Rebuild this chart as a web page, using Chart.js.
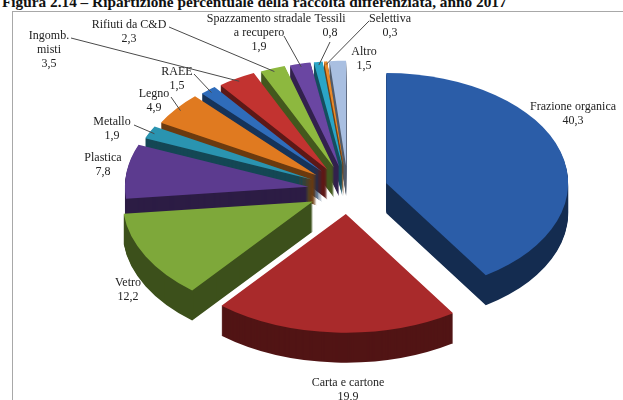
<!DOCTYPE html>
<html>
<head>
<meta charset="utf-8">
<script src="https://cdn.jsdelivr.net/npm/chart.js@4.4.0/dist/chart.umd.min.js"></script>
<style>
body { margin: 0; background: #fff; }
#wrap { position: relative; width: 623px; height: 400px; overflow: hidden; }
#title { position: absolute; left: 2px; top: -6px; font: bold 15.3px 'Liberation Serif', serif; line-height: 16px; white-space: nowrap; color: #111; }
#frame { position: absolute; left: 12px; top: 11px; width: 700px; height: 500px; border-left: 1px solid #a8a8a8; border-top: 1px solid #a8a8a8; }
canvas { position: absolute; left: 0; top: 0; }
</style>
</head>
<body>
<div id="wrap">
  <div id="frame"></div>
  <div id="title">Figura 2.14 – Ripartizione percentuale della raccolta differenziata, anno 2017</div>
  <canvas id="myChart" width="623" height="400"></canvas>
</div>
<script>
// data
var categories = ['Frazione organica', 'Carta e cartone', 'Vetro', 'Plastica', 'Metallo', 'Legno', 'RAEE',
    'Ingomb.\nmisti', 'Rifiuti da C&D', 'Spazzamento stradale\na recupero', 'Tessili', 'Selettiva', 'Altro'];
var values = [40.3, 19.9, 12.2, 7.8, 1.9, 4.9, 1.5, 3.5, 2.3, 1.9, 0.8, 0.3, 1.5];

var colors = ['#2b5da8', '#a92a2b', '#7ea83a', '#5c3b8f', '#2a94b0', '#e07a20', '#2f6cba',
    '#c23330', '#8db83f', '#6a46a2', '#2ba5c6', '#e98a2b', '#a9bfe1'];

// label placement: center x, y of first line, and where the leader line starts (or null)
var labelPos = [
    [573, 107, null], [348, 383, null], [128, 283, null], [103, 158, null],
    [112, 122, [134, 125]], [154, 94, [171, 97]], [177, 72, [194, 74]],
    [49, 36, [71, 38]], [129, 25, [169, 27]], [259, 19, [284, 36]],
    [330, 19, [330, 42]], [390, 19, [369, 21]], [364, 52, null]
];

// 3d look (PERSP makes the front slices a bit bigger than the back ones)
var CX = 348, CY = 190, RX = 185, RY = 112, EX = 40, EY = 24, DEPTH = 30, PERSP = 0.06;

function slicePos(arc, d) {
    var mid = (arc.startAngle + arc.endAngle) / 2;
    return { x: CX + EX * Math.cos(mid), y: CY + EY * Math.sin(mid) + d, mid: mid, m: 1 + PERSP * Math.sin(mid) };
}

function placeArc(ctx, arc, d) {
    var p = slicePos(arc, d);
    var k = arc.outerRadius;
    ctx.translate(p.x, p.y);
    ctx.scale(RX * p.m / k, RY * p.m / k);
    ctx.translate(-arc.x, -arc.y);
}

function rimPoint(arc, f) {
    var p = slicePos(arc, 0);
    return { x: p.x + RX * p.m * f * Math.cos(p.mid), y: p.y + RY * p.m * f * Math.sin(p.mid) };
}

var pie3d = {
    id: 'pie3d',
    beforeDatasetsDraw: function (chart) {
        var ctx = chart.ctx;
        var arcs = chart.getDatasetMeta(0).data;
        // side walls
        for (var d = DEPTH; d >= 1; d--) {
            for (var i = 0; i < arcs.length; i++) {
                ctx.save();
                ctx.filter = 'brightness(48%)';
                placeArc(ctx, arcs[i], d);
                arcs[i].draw(ctx);
                ctx.restore();
            }
        }
        // tops
        for (var j = 0; j < arcs.length; j++) {
            ctx.save();
            placeArc(ctx, arcs[j], 0);
            arcs[j].draw(ctx);
            ctx.restore();
        }
        return false;
    },
    afterDraw: function (chart) {
        var ctx = chart.ctx;
        var arcs = chart.getDatasetMeta(0).data;
        ctx.save();
        ctx.font = "12px 'Liberation Serif'";
        ctx.fillStyle = '#222';
        ctx.textAlign = 'center';
        ctx.textBaseline = 'middle';
        ctx.strokeStyle = '#4a4a4a';
        ctx.lineWidth = 1;
        for (var i = 0; i < categories.length; i++) {
            var lp = labelPos[i];
            var lines = categories[i].split('\n');
            lines.push(values[i].toFixed(1).replace('.', ','));
            for (var l = 0; l < lines.length; l++) {
                ctx.fillText(lines[l], lp[0], lp[1] + l * 14);
            }
            if (lp[2]) {
                var e = rimPoint(arcs[i], 0.97);
                ctx.beginPath();
                ctx.moveTo(lp[2][0], lp[2][1]);
                ctx.lineTo(e.x, e.y);
                ctx.stroke();
            }
        }
        ctx.restore();
    }
};

var ctx1 = document.getElementById('myChart').getContext('2d');
var chart1 = new Chart(ctx1, {
    type: 'pie',
    data: {
        labels: categories,
        datasets: [{
            data: values,
            backgroundColor: colors,
            borderWidth: 0
        }]
    },
    options: {
        responsive: false,
        animation: false,
        events: [],
        plugins: {
            legend: { display: false },
            tooltip: { enabled: false }
        }
    },
    plugins: [pie3d]
});
</script>
</body>
</html>
